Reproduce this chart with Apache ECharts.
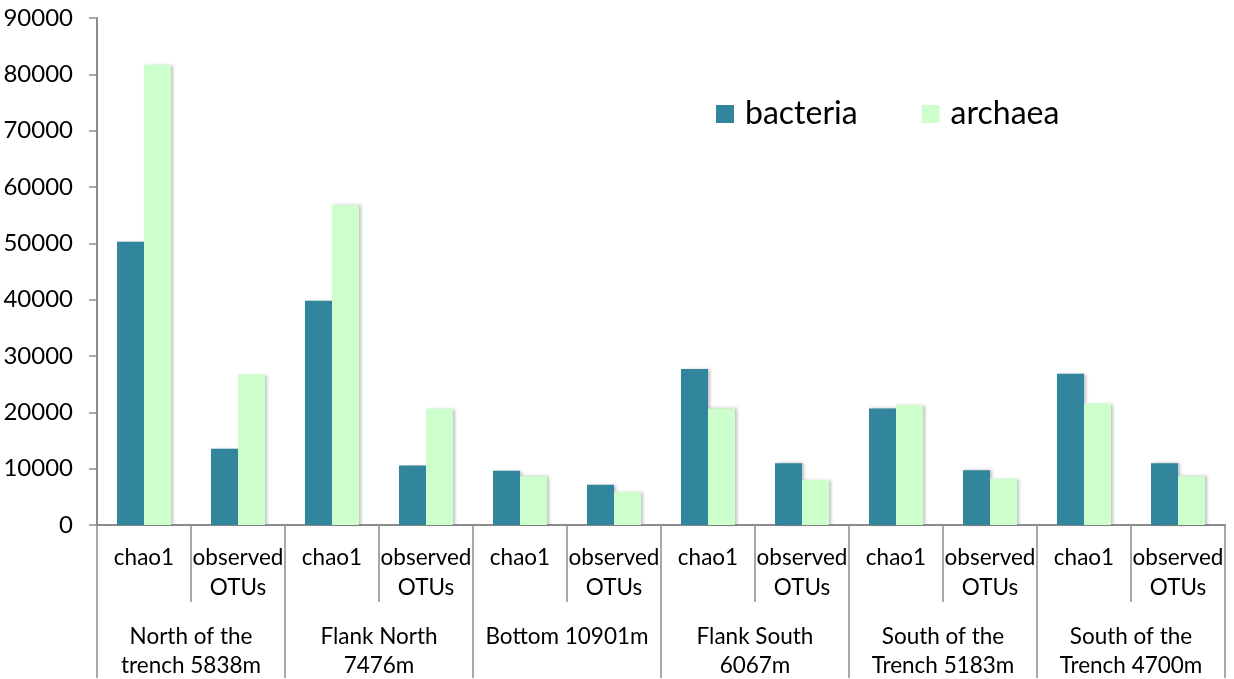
<!DOCTYPE html>
<html>
<head>
<meta charset="utf-8">
<script src="https://cdn.jsdelivr.net/npm/echarts@6/dist/echarts.min.js"></script>
<style>
  html, body { margin: 0; padding: 0; background: #fff; }
  #chart { width: 1234px; height: 679px; }
</style>
</head>
<body>
<div id="chart"></div>
<script>
// Richness estimates per sampling site
const metrics = ['chao1', 'observed\nOTUs'];
const sites = [
  'North of the\ntrench 5838m',
  'Flank North\n7476m',
  'Bottom 10901m',
  'Flank South\n6067m',
  'South of the\nTrench 5183m',
  'South of the\nTrench 4700m'
];
const bacteria = [50300, 13550, 39800, 10550, 9650, 7150, 27700, 10950, 20700, 9700, 26850, 10950];
const archaea  = [81700, 26700, 56750, 20650, 8650, 5900, 20700, 8000, 21350, 8200, 21550, 8650];
const yTicks = { min: 0, max: 90000, interval: 10000 };

const categories = [];
sites.forEach(() => metrics.forEach(m => categories.push(m)));

const FONT = 'Lato';
const axisGrey = '#8c8c8c';
const textColor = '#000';

const chart = echarts.init(document.getElementById('chart'));
chart.setOption({
  animation: false,
  textStyle: { fontFamily: FONT },
  grid: { left: 97, right: 9, top: 18, bottom: 154, containLabel: false, outerBoundsMode: 'none' },
  legend: {
    data: ['bacteria', 'archaea'],
    left: 711, top: 93,
    itemWidth: 18, itemHeight: 18, itemGap: 64,
    icon: 'rect',
    textStyle: { fontSize: 32, color: textColor, fontFamily: FONT, padding: [0, 0, 0, 6] }
  },
  xAxis: [
    {
      type: 'category',
      data: categories,
      position: 'bottom',
      axisLine: { lineStyle: { color: axisGrey, width: 2 } },
      axisTick: { show: true, length: 77, interval: 0, lineStyle: { color: axisGrey, width: 1.5 } },
      axisLabel: { interval: 0, fontSize: 22.5, lineHeight: 30, color: textColor, margin: 18, fontFamily: FONT }
    },
    {
      type: 'category',
      data: sites,
      position: 'bottom',
      axisLine: { show: false },
      axisTick: { show: true, length: 153, interval: 0, lineStyle: { color: axisGrey, width: 1.5 } },
      axisLabel: { interval: 0, fontSize: 22.5, lineHeight: 29, color: textColor, margin: 97, fontFamily: FONT }
    }
  ],
  yAxis: {
    type: 'value',
    min: yTicks.min, max: yTicks.max, interval: yTicks.interval,
    axisLine: { show: true, lineStyle: { color: axisGrey, width: 2 } },
    axisTick: { show: true, length: 8, lineStyle: { color: axisGrey, width: 1.5 } },
    splitLine: { show: false },
    axisLabel: { fontSize: 24, color: textColor, margin: 24, fontFamily: FONT, formatter: v => String(v) }
  },
  series: [
    {
      name: 'bacteria', type: 'bar', xAxisIndex: 0, data: bacteria,
      barWidth: 27, barGap: '0%',
      itemStyle: { color: '#31859C', shadowColor: 'rgba(0,0,0,0.25)', shadowBlur: 3, shadowOffsetX: 2 }
    },
    {
      name: 'archaea', type: 'bar', xAxisIndex: 0, data: archaea,
      barWidth: 27, barGap: '0%',
      itemStyle: { color: '#CCFFCC', shadowColor: 'rgba(0,0,0,0.25)', shadowBlur: 3, shadowOffsetX: 2 }
    }
  ]
});
</script>
</body>
</html>
